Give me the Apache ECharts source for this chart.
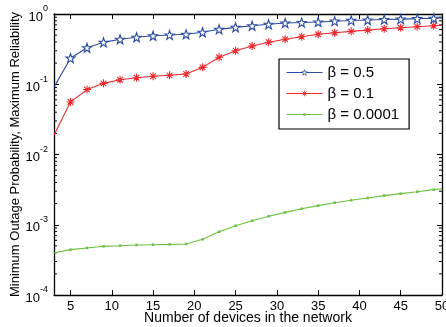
<!DOCTYPE html>
<html>
<head>
<meta charset="utf-8">
<script src="https://cdn.jsdelivr.net/npm/echarts@6/dist/echarts.min.js"></script>
<style>
  html, body { margin: 0; padding: 0; background: #fff; }
  #chart { width: 446px; height: 327px; }
</style>
</head>
<body>
<div id="chart"></div>
<script>
// number of devices (x); first point sits on the left edge, last on the right edge
const devices = [3, 5, 7, 9, 11, 13, 15, 17, 19, 21, 23, 25, 27, 29, 31, 33, 35, 37, 39, 41, 43, 45, 47, 49, 50]

const beta05 = [0.091, 0.235, 0.33, 0.395, 0.437, 0.466, 0.49, 0.503, 0.514, 0.55, 0.605, 0.646, 0.68, 0.713, 0.745,
  0.755, 0.77, 0.79, 0.81, 0.82, 0.835, 0.845, 0.858, 0.87, 0.875]
const beta01 = [0.019, 0.056, 0.084, 0.103, 0.116, 0.124, 0.13, 0.134, 0.14, 0.174, 0.242, 0.30, 0.351, 0.396, 0.437,
  0.475, 0.514, 0.542, 0.566, 0.59, 0.617, 0.638, 0.66, 0.68, 0.69]
const beta00001 = [0.00040, 0.000442, 0.000467, 0.000493, 0.000503, 0.000515, 0.00052, 0.000525, 0.000532, 0.00062,
  0.000796, 0.00097, 0.00114, 0.00132, 0.0015, 0.00169, 0.00187, 0.00206, 0.00223, 0.0024, 0.0026, 0.00277,
  0.00295, 0.00316, 0.00325]

const seriesNames = ['β = 0.5', 'β = 0.1', 'β = 0.0001']
const xTicks = [5, 10, 15, 20, 25, 30, 35, 40, 45, 50]

// minor ticks of the log axis: 2..9 x 10^k
const minorTicks = []
for (let k = -4; k < 0; k++) {
  for (let m = 2; m <= 9; m++) minorTicks.push(m * Math.pow(10, k))
}

const blue = '#2c4ca3'
const red = '#ee2a2f'
const green = '#6cc040'
const font = 'Liberation Sans, Arial, Helvetica, sans-serif'

const starPath = 'path://M0,-10L2.35,-3.24L9.51,-3.09L3.8,1.24L5.88,8.09L0,4L-5.88,8.09L-3.8,1.24L-9.51,-3.09L-2.35,-3.24Z'
const asteriskPath = 'path://M0,-10L0,10M-10,0L10,0M-7,-7L7,7M-7,7L7,-7'
// legend icon for the green series: thin line with a tiny dot
const dotLinePath = 'path://M0,4.5h36v1h-36zM16.8,3.8h2.4v2.4h-2.4z'

function pairs(values) {
  const last = devices.length - 1
  return devices.map((x, i) => {
    const item = { value: [x, values[i]] }
    if (i === 0 || i === last) item.symbolSize = 0
    return item
  })
}

const chart = echarts.init(document.getElementById('chart'), null, { renderer: 'canvas' })

const xAxisBase = {
  type: 'value',
  min: 3,
  max: 50,
  splitLine: { show: false },
  axisLine: { onZero: false, lineStyle: { color: '#000', width: 1.3 } },
  axisTick: { inside: true, length: 5, customValues: xTicks, lineStyle: { color: '#000' } }
}
const yAxisBase = {
  type: 'log',
  logBase: 10,
  min: 1e-4,
  max: 1,
  splitLine: { show: false },
  axisLine: { onZero: false, lineStyle: { color: '#000', width: 1.3 } },
  axisTick: { inside: true, length: 5, lineStyle: { color: '#000' } }
}

chart.setOption({
  animation: false,
  textStyle: { fontFamily: font },
  grid: { left: 54, right: 4, top: 14, bottom: 32, outerBoundsMode: 'none', containLabel: false },
  legend: {
    orient: 'vertical',
    left: 279,
    top: 59,
    padding: [6, 10, 7, 7],
    itemGap: 6,
    itemWidth: 36,
    itemHeight: 7,
    backgroundColor: '#fff',
    borderColor: '#000',
    borderWidth: 1.2,
    borderRadius: 0,
    itemStyle: { borderWidth: 0.8 },
    lineStyle: { width: 1 },
    textStyle: { fontSize: 15, color: '#000', fontFamily: font },
    data: [
      { name: seriesNames[0] },
      { name: seriesNames[1] },
      { name: seriesNames[2], icon: dotLinePath }
    ]
  },
  xAxis: [
    Object.assign({}, xAxisBase, {
      position: 'bottom',
      name: 'Number of devices in the network',
      nameLocation: 'middle',
      nameGap: 16,
      nameMoveOverlap: false,
      nameTextStyle: { fontSize: 14, color: '#000', fontFamily: font },
      axisLabel: { customValues: xTicks, margin: 5, fontSize: 13, color: '#000', fontFamily: font }
    }),
    Object.assign({}, xAxisBase, { position: 'top', axisLabel: { show: false } })
  ],
  yAxis: [
    Object.assign({}, yAxisBase, {
      position: 'left',
      name: 'Minimum Outage Probability, Maximum Reliability',
      nameLocation: 'middle',
      nameGap: 32,
      nameMoveOverlap: false,
      nameTextStyle: { fontSize: 13, color: '#000', fontFamily: font },
      axisLabel: {
        margin: 6,
        color: '#000',
        formatter: (v) => '{b|10}{s|' + Math.round(Math.log10(v)) + '}',
        rich: {
          b: { fontSize: 13, color: '#000', fontFamily: font, padding: [6, 0, 0, 0] },
          s: { fontSize: 9, color: '#000', fontFamily: font, verticalAlign: 'top', padding: [0, 0, 6, 0] }
        }
      }
    }),
    Object.assign({}, yAxisBase, { position: 'right', axisLabel: { show: false } })
  ],
  series: [
    {
      name: seriesNames[0],
      type: 'line',
      data: pairs(beta05),
      symbol: starPath,
      symbolSize: 9,
      clip: true,
      lineStyle: { color: blue, width: 1.1 },
      itemStyle: { color: '#fff', borderColor: blue, borderWidth: 1.1 },
      z: 4
    },
    {
      name: seriesNames[1],
      type: 'line',
      data: pairs(beta01),
      symbol: asteriskPath,
      symbolSize: 8,
      clip: true,
      lineStyle: { color: red, width: 1.1 },
      itemStyle: { color: red, borderColor: red, borderWidth: 1.1 },
      z: 3
    },
    {
      name: seriesNames[2],
      type: 'line',
      data: pairs(beta00001),
      symbol: 'rect',
      symbolSize: 2.5,
      clip: true,
      lineStyle: { color: green, width: 1.1 },
      itemStyle: { color: green },
      z: 2
    },
    {
      // minor ticks on left and right log axes
      type: 'custom',
      silent: true,
      data: minorTicks.map((v) => [3, v]),
      renderItem: (params, api) => {
        const left = api.coord([3, api.value(1)])
        const right = api.coord([50, api.value(1)])
        const style = { stroke: '#000', lineWidth: 1 }
        return {
          type: 'group',
          children: [
            { type: 'line', shape: { x1: left[0], y1: left[1], x2: left[0] + 3, y2: left[1] }, style },
            { type: 'line', shape: { x1: right[0], y1: right[1], x2: right[0] - 3, y2: right[1] }, style }
          ]
        }
      },
      z: 1
    }
  ]
})
</script>
</body>
</html>
